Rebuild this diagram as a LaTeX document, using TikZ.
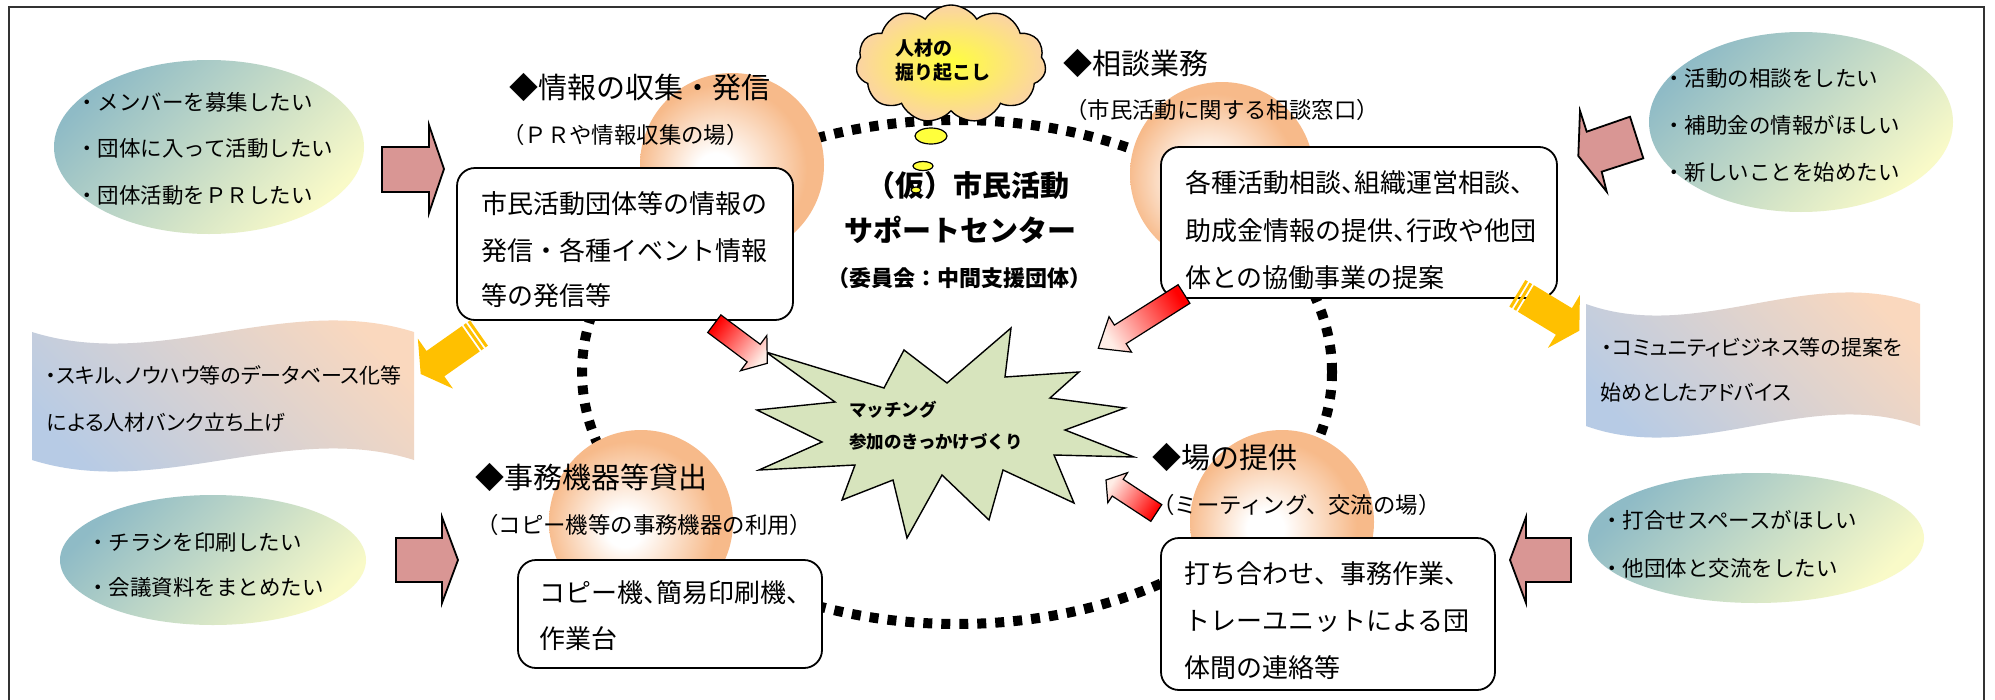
\documentclass[tikz,border=0pt]{standalone}
\usepackage{fontspec}
\setmainfont{Noto Sans CJK JP}
\newfontfamily\pjp[RawFeature=+palt]{Noto Sans CJK JP}
\usetikzlibrary{calc,shapes.symbols,shapes.geometric}
\definecolor{elA}{HTML}{8FBBC6}
\definecolor{elB}{HTML}{F9FAC8}
\definecolor{scA}{HTML}{B7CBE5}
\definecolor{scB}{HTML}{FAD8BE}
\definecolor{sphc}{HTML}{F7BA8A}
\definecolor{pinkarrow}{HTML}{D99694}
\definecolor{yelarrow}{HTML}{FFC000}
\definecolor{starc}{HTML}{D7E4BD}
\definecolor{cloudout}{HTML}{FBD3A4}
\definecolor{cloudin}{HTML}{FFFF3C}
\definecolor{redA}{HTML}{FF0000}
\definecolor{redB}{HTML}{FFEDE6}
\definecolor{framec}{HTML}{333333}
\pgfdeclareradialshading{sphshade}{\pgfpoint{-5bp}{-2bp}}{color(0bp)=(white); color(5bp)=(white); color(23bp)=(sphc); color(50bp)=(sphc)}
\newcommand{\fs}[1]{\fontsize{#1}{#1}\selectfont}
\newcommand{\hc}{\makebox[0.5em][l]{、}}
% block arrow: style, tail, tip, half body width, half head width, head length
\newcommand{\blkarrow}[6]{%
  \coordinate (faB) at ($(#3)!#6!(#2)$);
  \path[#1] ($(#2)!#4!90:(#3)$) -- ($(faB)!#4!-90:(#2)$) -- ($(faB)!#5!-90:(#2)$) -- (#3)
    -- ($(faB)!#5!90:(#2)$) -- ($(faB)!#4!90:(#2)$) -- ($(#2)!#4!-90:(#3)$) -- cycle;}
\newcommand{\stripearrow}[6]{%
  \coordinate (sa1) at ($(#2)!3pt!(#3)$);
  \coordinate (sa2) at ($(#2)!5pt!(#3)$);
  \coordinate (sa3) at ($(#2)!8pt!(#3)$);
  \coordinate (sa4) at ($(#2)!10pt!(#3)$);
  \path[#1] ($(#2)!#4!90:(#3)$) -- ($(sa1)!#4!90:(#3)$) -- ($(sa1)!#4!-90:(#3)$) -- ($(#2)!#4!-90:(#3)$) -- cycle;
  \path[#1] ($(sa2)!#4!90:(#3)$) -- ($(sa3)!#4!90:(#3)$) -- ($(sa3)!#4!-90:(#3)$) -- ($(sa2)!#4!-90:(#3)$) -- cycle;
  \blkarrow{#1}{sa4}{#3}{#4}{#5}{#6}}
\begin{document}
\begin{tikzpicture}[x=1pt,y=-1pt,
  tx/.style={anchor=base west, inner sep=0pt, font=\fs{#1}},
  ctx/.style={anchor=base, inner sep=0pt, font=\fs{#1}\bfseries},
  wish/.style={ellipse, inner sep=0pt, top color=elA, bottom color=elB, shading angle=45},
  scrollsh/.style={top color=scB, bottom color=scA, shading angle=-45},
  sphere/.style={circle, inner sep=0pt, minimum size=184pt, shading=sphshade},
  box/.style={draw=black, line width=1.8pt, fill=white, rounded corners=18pt, inner sep=0pt},
  pinkarr/.style={draw=black, line width=1.8pt, fill=pinkarrow, line join=miter},
  redarr/.style={draw=black, line width=1.2pt, top color=redA, bottom color=redB, shading angle=#1},
  yelarr/.style={fill=yelarrow},
  bubble/.style={ellipse, draw=black, line width=1.2pt, fill=cloudin, inner sep=0pt}]
\useasboundingbox (0,0) rectangle (1995,699);
\fill[white] (0,0) rectangle (1995,699);
% frame
\draw[framec, line width=2pt] (9,720) -- (9,7) -- (1984,7) -- (1984,720);

% dotted ring
\draw[line width=10pt, dash pattern=on 9pt off 9pt] (957,372) ellipse [x radius=375, y radius=252];

% spheres
\node[sphere] (s1) at (732,165) {};
\node[sphere] (s2) at (1222,174) {};
\node[sphere] (s3) at (641,522) {};
\node[sphere] (s4) at (1282,522) {};

% headings
\node[tx=29] (h1) at (509,98) {◆情報の収集・発信};
\node[tx=22.4] (h1s) at (502,143.5) {（ＰＲや情報収集の場）};
\node[tx=29] (h2) at (1063,74) {◆相談業務};
\node[tx=22.4] (h2s) at (1065,118.5) {（市民活動に関する相談窓口）};
\node[tx=29] (h3) at (475,488) {◆事務機器等貸出};
\node[tx=22.4] (h3s) at (476,533.5) {（コピー機等の事務機器の利用）};
\node[tx=29] (h4) at (1152,468) {◆場の提供};
\node[tx=22.4] (h4s) at (1152,513.5) {（ミーティング、交流の場）};

% boxes
\node[box, minimum width=336pt, minimum height=152pt] (b1) at (625,244) {};
\node[box, minimum width=396pt, minimum height=151pt] (b2) at (1359,222.5) {};
\node[box, minimum width=304pt, minimum height=108pt] (b3) at (670,614) {};
\node[box, minimum width=334pt, minimum height=152pt] (b4) at (1328,614) {};

\node[tx=26] (b1a) at (481,213) {市民活動団体等の情報の};
\node[tx=26] (b1b) at (481,260) {発信・各種イベント情報};
\node[tx=26] (b1c) at (481,305) {等の発信等};
\node[tx=26] (b2a) at (1185,192) {各種活動相談\hc 組織運営相談\hc};
\node[tx=26] (b2b) at (1185,240) {助成金情報の提供\hc 行政や他団};
\node[tx=26] (b2c) at (1185,287) {体との協働事業の提案};
\node[tx=26] (b3a) at (539,602) {コピー機\hc 簡易印刷機\hc};
\node[tx=26] (b3b) at (539,648) {作業台};
\node[tx=26] (b4a) at (1184,583) {打ち合わせ、事務作業\hc};
\node[tx=26] (b4b) at (1184,630) {トレーユニットによる団};
\node[tx=26] (b4c) at (1184,677) {体間の連絡等};

% wish ellipses
\node[wish, minimum width=310pt, minimum height=174pt] (e1) at (209,147) {};
\node[tx=21.5] (e1a) at (76,110) {・メンバーを募集したい};
\node[tx=21.5] (e1b) at (76,156) {・団体に入って活動したい};
\node[tx=21.5] (e1c) at (76,203) {・団体活動をＰＲしたい};
\node[wish, minimum width=304pt, minimum height=180pt] (e2) at (1801,122) {};
\node[tx=21.5] (e2a) at (1663,86) {・活動の相談をしたい};
\node[tx=21.5] (e2b) at (1663,133) {・補助金の情報がほしい};
\node[tx=21.5] (e2c) at (1663,180) {・新しいことを始めたい};
\node[wish, minimum width=306pt, minimum height=130pt] (e3) at (213,560) {};
\node[tx=21.5] (e3a) at (87,550) {・チラシを印刷したい};
\node[tx=21.5] (e3b) at (87,595) {・会議資料をまとめたい};
\node[wish, minimum width=336pt, minimum height=130pt] (e4) at (1756,538) {};
\node[tx=21.5] (e4a) at (1601,528) {・打合せスペースがほしい};
\node[tx=21.5] (e4b) at (1601,576) {・他団体と交流をしたい};

% scrolls
\path[scrollsh] (32,332) .. controls (159.3,372) and (286.7,292) .. (414,332) -- (414,460)
  .. controls (286.7,420) and (159.3,500) .. (32,460) -- cycle;
\node[tx=21, font=\fs{21}\pjp] (sc1a) at (46,383) {・スキル、ノウハウ等のデータベース化等};
\node[tx=21, font=\fs{21}\pjp] (sc1b) at (47,430) {による人材バンク立ち上げ};
\path[scrollsh] (1586,304) .. controls (1697.3,344) and (1808.7,264) .. (1920,304) -- (1920,426)
  .. controls (1808.7,386) and (1697.3,466) .. (1586,426) -- cycle;
\node[tx=21, font=\fs{21}\pjp] (sc2a) at (1602,355) {・コミュニティビジネス等の提案を};
\node[tx=21, font=\fs{21}\pjp] (sc2b) at (1600,400) {始めとしたアドバイス};

% pink block arrows
\draw[pinkarr] (382,147) -- (429,147) -- (429,125) -- (444,169) -- (429,213) -- (429,192) -- (382,192) -- cycle;
\draw[pinkarr] (396,538) -- (442,538) -- (442,517) -- (458,560) -- (442,603) -- (442,582) -- (396,582) -- cycle;
\draw[pinkarr] (1571,538) -- (1526,538) -- (1526,517) -- (1510,560) -- (1526,603) -- (1526,582) -- (1571,582) -- cycle;
\draw[pinkarr] (1580,110.7) -- (1586.7,131.7) -- (1630,116.7) -- (1643.3,158.3) -- (1601.7,171.7) -- (1606.7,191.7) -- (1578.3,156) -- cycle;

% yellow striped arrows
\coordinate (yDt) at (479,333);
\coordinate (yDp) at (420.7,374);
\stripearrow{yelarr}{yDt}{yDp}{15.5pt}{30.5pt}{18pt}
\coordinate (yEt) at (1517.3,293.3);
\coordinate (yEp) at (1579.3,330.7);
\stripearrow{yelarr}{yEt}{yEp}{15.5pt}{31pt}{18pt}

% star
\draw[fill=starc, line width=1.4pt, line join=miter] (766,352) -- (884,388) -- (904,350) -- (947,383) -- (1011,328) -- (1005,377)
  -- (1079,372) -- (1050,398) -- (1125,408) -- (1065,430) -- (1134,457) -- (1054,455) -- (1074,503)
  -- (1003,470) -- (989,520) -- (942,475) -- (907,538) -- (893,480) -- (842,500) -- (855,465)
  -- (759,470) -- (822,442) -- (757,410) -- (835,402) -- cycle;
\node[tx=17.5, font=\fs{17.5}\bfseries] (st1) at (849,416.7) {マッチング};
\node[tx=17.5, font=\fs{17.5}\bfseries] (st2) at (849,448.7) {参加のきっかけづくり};

% red arrows
\coordinate (rAt) at (714.3,323.7);
\coordinate (rAp) at (767.3,363.3);
\blkarrow{redarr=53.2}{rAt}{rAp}{11pt}{22pt}{17pt}
\coordinate (rBt) at (1184,294);
\coordinate (rBp) at (1098.3,348.3);
\blkarrow{redarr=-57.6}{rBt}{rBp}{11pt}{21pt}{26pt}
\coordinate (rCt) at (1156.3,513);
\coordinate (rCp) at (1106,480);
\blkarrow{redarr=-123.3}{rCt}{rCp}{10pt}{18pt}{14pt}

% cloud and bubbles
\node[cloud, cloud puffs=11, cloud puff arc=115, aspect=1.9, draw=black, line width=1.4pt,
  inner color=cloudin, outer color=cloudout, minimum width=190pt, minimum height=118pt, inner sep=0pt] (cl) at (951,64) {};
\node[tx=19, font=\fs{19}\bfseries] (cla) at (895,55) {人材の};
\node[tx=19, font=\fs{19}\bfseries] (clb) at (895,79) {掘り起こし};
\node[bubble, minimum width=32pt, minimum height=16pt] (bb1) at (931,136) {};
\node[bubble, minimum width=20pt, minimum height=9pt] (bb2) at (923,166) {};

% center title
\node[ctx=29] (c1) at (968,196) {（仮）市民活動};
\node[bubble, minimum width=10pt, minimum height=6pt] (bb3) at (916,190) {};
\node[ctx=29] (c2) at (960,241) {サポートセンター};
\node[ctx=22] (c3) at (959,286.4) {（委員会：中間支援団体）};
\end{tikzpicture}
\end{document}
